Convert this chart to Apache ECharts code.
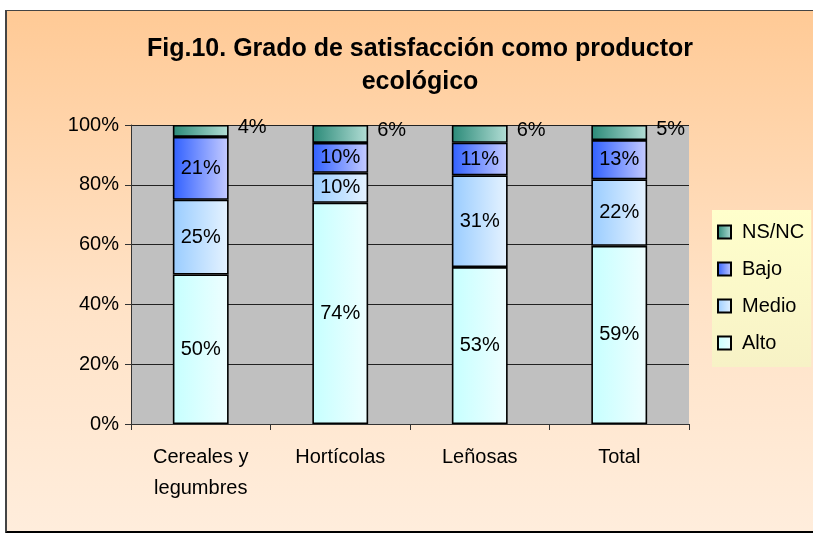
<!DOCTYPE html>
<html>
<head>
<meta charset="UTF-8">
<title>Fig.10</title>
<script src="https://cdn.jsdelivr.net/npm/echarts@6/dist/echarts.min.js"></script>
<style>
  html, body { margin: 0; padding: 0; background: #fff; }
  #frame {
    position: absolute; left: 5px; top: 10px; width: 808px; height: 520px;
    border-left: 2px solid #444; border-top: 1px solid #444; border-bottom: 3px solid #000;
  }
  #chart { width: 808px; height: 520px; }
</style>
</head>
<body>
<div id="frame"><div id="chart"></div></div>
<script>
// chart data
const categories = ['Cereales y\nlegumbres', 'Hortícolas', 'Leñosas', 'Total'];
const alto = [50, 74, 53, 59];
const medio = [25, 10, 31, 22];
const bajo = [21, 10, 11, 13];
const nsnc = [4, 6, 6, 5];
const yTicks = [0, 20, 40, 60, 80, 100];

// 100% stacked: each column is drawn as its share of the column total
const totals = categories.map((c, i) => alto[i] + medio[i] + bajo[i] + nsnc[i]);
const share = (arr) => arr.map((v, i) => ({ value: v / totals[i] * 100, raw: v }));

const grad = (a, b) => new echarts.graphic.LinearGradient(0, 0, 1, 0, [
  { offset: 0, color: a }, { offset: 1, color: b }
]);

const labelFont = { fontFamily: 'Liberation Sans, Arial, sans-serif', fontSize: 20, color: '#000' };

function makeSeries(name, arr, c1, c2, outside) {
  return {
    name: name,
    type: 'bar',
    stack: 'all',
    barWidth: '40%',
    data: share(arr),
    itemStyle: { color: grad(c1, c2), borderColor: '#000', borderWidth: 1.6 },
    label: Object.assign({
      show: true,
      position: outside ? 'right' : 'inside',
      distance: 9,
      offset: outside ? [0, -3] : [0, 0],
      formatter: (p) => p.data.raw + '%'
    }, labelFont),
    emphasis: { disabled: true }
  };
}

const chart = echarts.init(document.getElementById('chart'));
chart.setOption({
  animation: false,
  backgroundColor: new echarts.graphic.LinearGradient(0, 0, 0, 1, [
    { offset: 0, color: '#ffca96' },
    { offset: 0.55, color: '#ffe2c6' },
    { offset: 1, color: '#ffeddc' }
  ]),
  title: {
    text: 'Fig.10. Grado de satisfacción como productor\necológico',
    left: 408,
    textAlign: 'center',
    top: 17,
    textStyle: {
      fontFamily: 'Liberation Sans, Arial, sans-serif',
      fontWeight: 'bold',
      fontSize: 25,
      lineHeight: 33,
      color: '#000'
    }
  },
  legend: {
    data: ['NS/NC', 'Bajo', 'Medio', 'Alto'],
    orient: 'vertical',
    left: 705,
    top: 199,
    padding: [12, 7, 14, 5],
    itemGap: 17,
    icon: 'rect',
    itemWidth: 13,
    itemHeight: 13,
    backgroundColor: new echarts.graphic.LinearGradient(0, 0, 0, 1, [
      { offset: 0, color: '#ffffcc' }, { offset: 1, color: '#f7f2c6' }
    ]),
    textStyle: Object.assign({ padding: [0, 0, 0, 6] }, labelFont),
    selectedMode: false
  },
  grid: { left: 124, top: 114, width: 558, height: 299, show: true, backgroundColor: '#c0c0c0', borderWidth: 0 },
  xAxis: {
    type: 'category',
    data: categories,
    axisLine: { lineStyle: { color: '#333', width: 1 } },
    axisTick: { show: true, length: 6, lineStyle: { color: '#333' } },
    axisLabel: Object.assign({ margin: 18, lineHeight: 31, interval: 0 }, labelFont)
  },
  yAxis: {
    type: 'value',
    min: yTicks[0],
    max: yTicks[yTicks.length - 1],
    interval: 20,
    axisLine: { show: true, lineStyle: { color: '#333', width: 1 } },
    axisTick: { show: true, length: 6, lineStyle: { color: '#333' } },
    splitLine: { lineStyle: { color: '#222', width: 1 } },
    axisLabel: Object.assign({ margin: 12, formatter: '{value}%' }, labelFont)
  },
  series: [
    makeSeries('Alto', alto, '#c6ffff', '#effeff', false),
    makeSeries('Medio', medio, '#99ccff', '#e6f3ff', false),
    makeSeries('Bajo', bajo, '#3060ff', '#c6ccff', false),
    makeSeries('NS/NC', nsnc, '#2a8a78', '#b4ded6', true)
  ]
});
</script>
</body>
</html>
